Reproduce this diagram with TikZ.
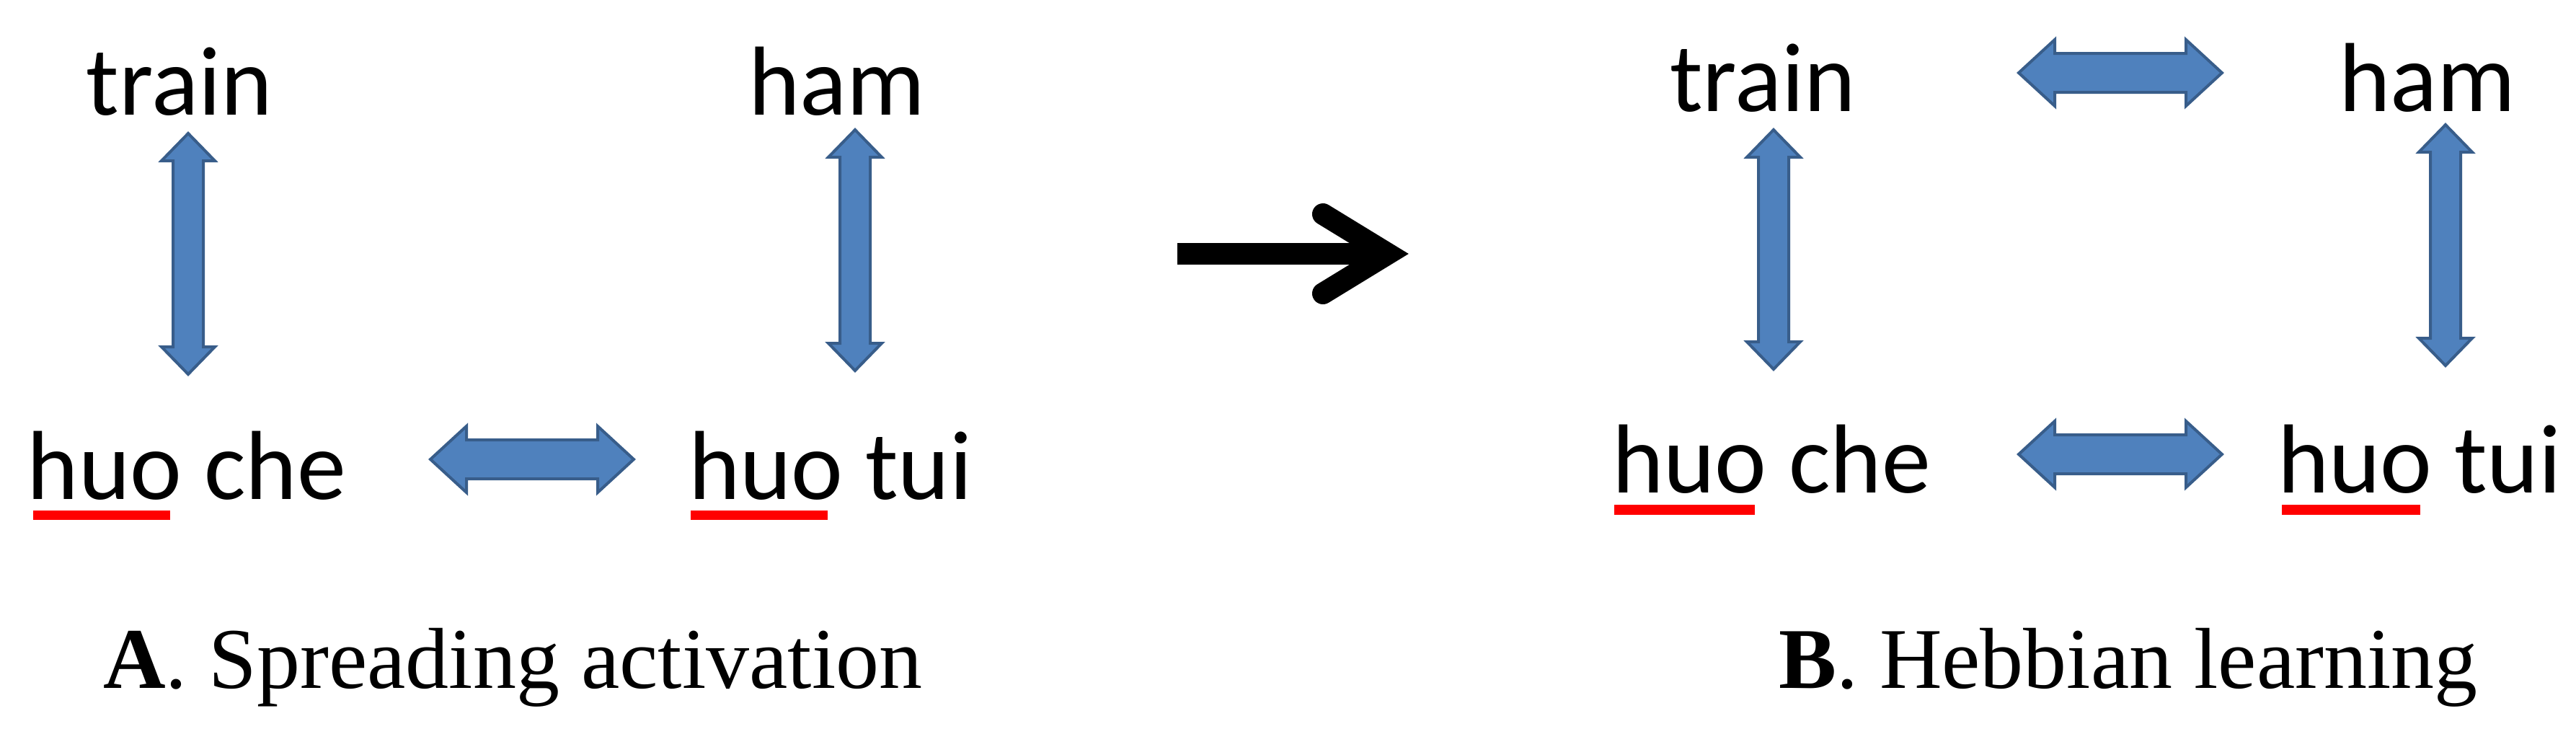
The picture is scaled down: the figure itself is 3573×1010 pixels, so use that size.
\documentclass[tikz,border=0pt]{standalone}
\usepackage{fontspec}
\setmainfont{Liberation Serif}
\newfontfamily\calfont{Carlito}
\definecolor{arrowfill}{HTML}{4F81BD}
\definecolor{arrowline}{HTML}{385D8A}
% horizontal double arrow: x1, x2, y
\newcommand\myHarrow[3]{\draw[bluearrow] (#1,#3) -- ({#1+50},{#3-46}) -- ({#1+50},{#3-27}) -- ({#2-50},{#3-27}) -- ({#2-50},{#3-46}) -- (#2,#3) -- ({#2-50},{#3+46}) -- ({#2-50},{#3+27}) -- ({#1+50},{#3+27}) -- ({#1+50},{#3+46}) -- cycle;}
% vertical double arrow: x, y1, y2
\newcommand\myVarrow[3]{\draw[bluearrow] (#1,#2) -- ({#1+37},{#2+38}) -- ({#1+21},{#2+38}) -- ({#1+21},{#3-38}) -- ({#1+37},{#3-38}) -- (#1,#3) -- ({#1-37},{#3-38}) -- ({#1-21},{#3-38}) -- ({#1-21},{#2+38}) -- ({#1-37},{#2+38}) -- cycle;}
\begin{document}
\begin{tikzpicture}[x=0.1pt,y=-0.1pt,
  word/.style={anchor=base west, inner sep=0pt, font=\calfont\fontsize{13.6}{16}\selectfont},
  caption/.style={anchor=base west, inner sep=0pt, font=\fontsize{12}{14}\selectfont},
  bluearrow/.style={fill=arrowfill, draw=arrowline, line width=0.4pt, line join=miter},
  spell/.style={fill=red, draw=none},
]
\useasboundingbox (0,0) rectangle (3573,1010);

% ---- Panel A ----
\node[word] (trainA) at (118,159) {train};
\node[word] (hamA) at (1036,159) {ham};
\node[word] (hcheA) at (36,692) {huo che};
\node[word] (htuiA) at (953,692) {huo tui};
\fill[spell] (46,708) rectangle (236,721);
\fill[spell] (958,708) rectangle (1148,721);
\myVarrow{261}{185}{519}
\myVarrow{1186}{180}{514}
\myHarrow{597}{879}{637}
\node[caption] (capA) at (141,954) {\textbf{A}. Spreading activation};

% ---- transition arrow ----
\fill (1633,337) rectangle (1905,367);
\draw[line width=3pt, line cap=round, line join=miter] (1835,297) -- (1925,352) -- (1835,407);

% ---- Panel B ----
\node[word] (trainB) at (2314,154) {train};
\node[word] (hamB) at (3242,154) {ham};
\node[word] (hcheB) at (2234,683) {huo che};
\node[word] (htuiB) at (3157,683) {huo tui};
\fill[spell] (2239,700) rectangle (2434,714);
\fill[spell] (3165,700) rectangle (3357,714);
\myHarrow{2800}{3082}{101}
\myVarrow{2460}{180}{512}
\myVarrow{3392}{173}{507}
\myHarrow{2800}{3082}{630}
\node[caption] (capB) at (2465,954) {\textbf{B}. Hebbian learning};
\end{tikzpicture}
\end{document}
